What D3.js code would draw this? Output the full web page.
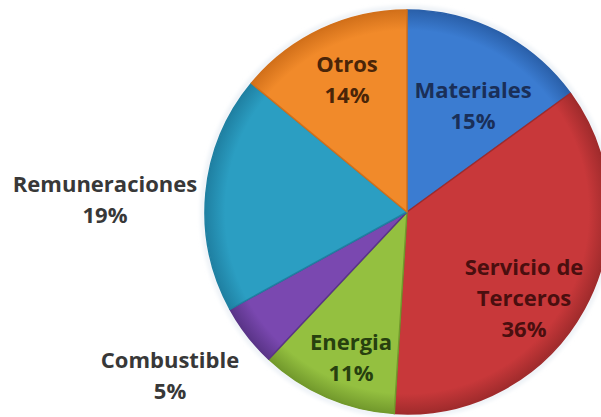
<!DOCTYPE html>
<html>
<head>
<meta charset="utf-8">
<script src="https://cdn.jsdelivr.net/npm/d3@7"></script>
<style>
  body { margin: 0; background: #ffffff; }
  svg { display: block; }
  text { font-family: "Open Sans", "Noto Sans", sans-serif; font-weight: 700; font-size: 22px; }
</style>
</head>
<body>
<svg id="pie_svg" width="601" height="417"></svg>
<script>
// chart values, clockwise from 12 o'clock
const categories = ['Materiales', 'Servicio de Terceros', 'Energia', 'Combustible', 'Remuneraciones', 'Otros'];
const percents = [15, 36, 11, 5, 19, 14];
const labelLines = [['Materiales'], ['Servicio de', 'Terceros'], ['Energia'], ['Combustible'], ['Remuneraciones'], ['Otros']];

const sliceColors = ['#3b7cd1', '#c8383a', '#94c040', '#7a48b0', '#2b9ec2', '#f18a2a'];
const edgeColors = ['#2a60aa', '#a02b2c', '#72992c', '#5a3488', '#1f80a2', '#d2701a'];
const textColors = ['#1a2f58', '#4a0f0f', '#27400f', '#383838', '#383838', '#4a2508'];

const svg = d3.select('#pie_svg');
const cx = 407, cy = 212, radius = 202;

const data = categories.map((c, i) => ({ name: c, value: percents[i], lines: labelLines[i], i: i }));

const pie = d3.pie().sort(null).value((d) => d.value);
const arc = d3.arc().innerRadius(0).outerRadius(radius);
const arcs = pie(data);

/**
 * Radial gradients for the office-style shading (in the group's own coordinates)
 */
const defs = svg.append('defs');
arcs.forEach((a, i) => {
    const grad = defs.append('radialGradient')
        .attr('id', 'grad' + i)
        .attr('gradientUnits', 'userSpaceOnUse')
        .attr('cx', 0).attr('cy', 0).attr('r', radius);
    grad.append('stop').attr('offset', '0%').attr('stop-color', sliceColors[i]);
    grad.append('stop').attr('offset', '90%').attr('stop-color', sliceColors[i]);
    grad.append('stop').attr('offset', '100%').attr('stop-color', edgeColors[i]);
});

const glow = defs.append('filter').attr('id', 'glow').attr('x', '-10%').attr('y', '-10%').attr('width', '120%').attr('height', '120%');
glow.append('feGaussianBlur').attr('stdDeviation', 2);

const g = svg.append('g').attr('transform', `translate(${cx},${cy})`);

// soft halo around the pie
g.append('circle')
    .attr('r', radius + 2)
    .attr('fill', 'none')
    .attr('stroke', '#e8eef4')
    .attr('stroke-width', 4)
    .attr('filter', 'url(#glow)');

g.selectAll('.slice')
    .data(arcs)
    .enter()
    .append('path')
    .attr('class', 'slice')
    .attr('d', arc)
    .attr('fill', (d, i) => `url(#grad${i})`)
    .attr('stroke', (d, i) => edgeColors[i])
    .attr('stroke-width', 1.5)
    .attr('stroke-linejoin', 'round');

/**
 * Labels: inside the big slices, outside for the two on the left
 */
const labelPos = [
    { x: 473, y: 98 },
    { x: 524, y: 275 },
    { x: 351, y: 350 },
    { x: 170, y: 368 },
    { x: 105, y: 192 },
    { x: 347, y: 72 }
];
const lineGap = 31;

const labels = svg.selectAll('.label')
    .data(data)
    .enter()
    .append('text')
    .attr('class', 'label')
    .attr('text-anchor', 'middle')
    .attr('fill', (d) => textColors[d.i]);

labels.each(function (d) {
    const t = d3.select(this);
    const p = labelPos[d.i];
    const lines = d.lines.concat([d.value + '%']);
    lines.forEach((s, k) => {
        t.append('tspan')
            .attr('x', p.x)
            .attr('y', p.y + k * lineGap)
            .text(s);
    });
});
</script>
</body>
</html>
